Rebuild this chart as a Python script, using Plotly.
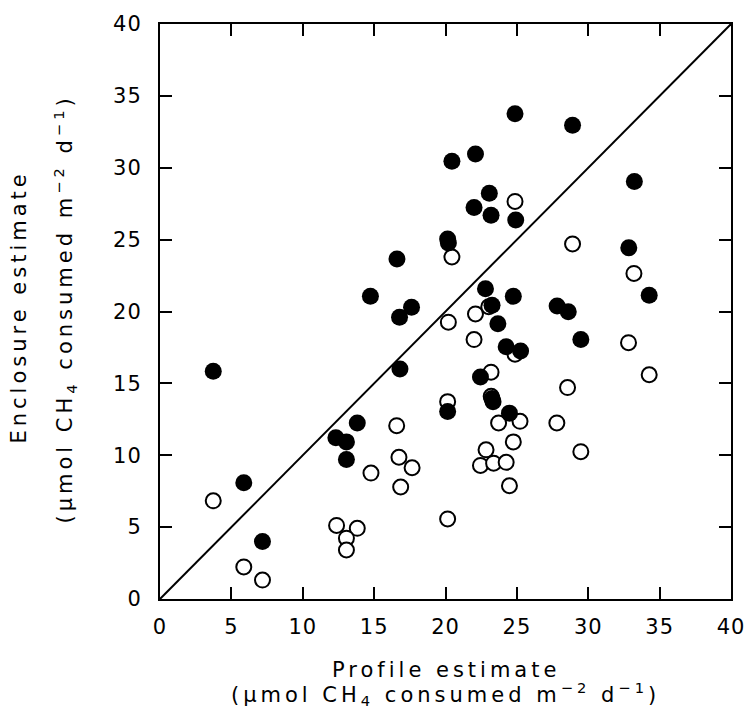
import plotly.graph_objects as go

# Filled circles
filled_x = [3.73, 5.87, 7.18, 12.32, 13.06, 13.06, 13.82, 14.74, 16.6, 16.78, 16.81, 17.62,
            20.15, 20.2, 20.15, 20.45, 22.0, 22.1, 22.45, 22.8, 23.07, 23.19, 23.26, 23.26,
            23.33, 23.67, 24.25, 24.48, 24.75, 24.87, 24.92, 25.26, 27.82, 28.6, 28.9, 29.48,
            32.84, 33.23, 34.27]
filled_y = [15.85, 8.08, 4.0, 11.22, 10.93, 9.7, 12.25, 21.06, 23.65, 19.6, 16.0, 20.29,
            25.04, 24.77, 13.05, 30.46, 27.23, 30.96, 15.44, 21.58, 28.23, 26.7, 20.44, 13.95,
            13.73, 19.15, 17.55, 12.93, 21.06, 33.76, 26.37, 17.25, 20.38, 19.99, 32.96, 18.05,
            24.43, 29.05, 21.13]

# Open circles
open_x = [3.73, 5.87, 7.18, 12.37, 13.82, 13.06, 13.06, 14.78, 16.58, 16.74, 17.66, 16.86,
          20.15, 20.15, 20.2, 20.45, 22.0, 22.1, 23.03, 23.19, 23.2, 23.72, 24.87, 24.87,
          25.22, 24.75, 22.84, 22.45, 23.37, 24.25, 24.48, 27.8, 28.55, 28.9, 29.48, 32.82,
          33.2, 34.27]
open_y = [6.83, 2.23, 1.32, 5.12, 4.92, 4.23, 3.41, 8.76, 12.06, 9.86, 9.13, 7.79,
          13.73, 5.57, 19.26, 23.79, 18.05, 19.83, 20.33, 15.78, 14.1, 12.25, 17.03, 27.66,
          12.36, 10.93, 10.38, 9.29, 9.45, 9.51, 7.88, 12.25, 14.71, 24.7, 10.25, 17.83,
          22.65, 15.6]

line_x = [0, 40]
line_y = [0, 40]
tick_vals = [0, 5, 10, 15, 20, 25, 30, 35, 40]

x_title_1 = "Profile estimate"
y_title_1 = "Enclosure estimate"
unit_title = "(μmol CH<sub>4</sub> consumed m<sup>−2</sup> d<sup>−1</sup>)"

FONT = "DejaVu Sans"

fig = go.Figure()
fig.add_trace(go.Scatter(x=line_x, y=line_y, mode="lines",
                         line=dict(color="black", width=2), showlegend=False))
fig.add_trace(go.Scatter(x=open_x, y=open_y, mode="markers",
                         marker=dict(size=15, color="white",
                                     line=dict(color="black", width=2)),
                         showlegend=False))
fig.add_trace(go.Scatter(x=filled_x, y=filled_y, mode="markers",
                         marker=dict(size=17, color="black",
                                     line=dict(color="black", width=0)),
                         showlegend=False))

axis_common = dict(range=[0, 40], tickvals=tick_vals, ticks="inside", ticklen=12,
                   tickwidth=2, tickcolor="black", showline=True, linecolor="black",
                   linewidth=2, mirror="ticks", showgrid=False, zeroline=False,
                   tickfont=dict(family=FONT, size=21, color="black"))

fig.update_xaxes(**axis_common, ticklabelstandoff=8)
fig.update_yaxes(**axis_common, ticklabelstandoff=12)

tfont = dict(family=FONT, size=21, color="black")
fig.update_layout(
    width=756, height=726,
    margin=dict(l=160, r=17, t=15, b=127),
    plot_bgcolor="white", paper_bgcolor="white",
    font=dict(family=FONT, size=20, color="black"),
    annotations=[
        dict(text=x_title_1, xref="paper", yref="paper", x=0.5, y=0,
             xanchor="center", yanchor="middle", yshift=-71, showarrow=False, font=tfont),
        dict(text=unit_title, xref="paper", yref="paper", x=0.5, y=0,
             xanchor="center", yanchor="middle", yshift=-95, showarrow=False, font=tfont),
        dict(text=y_title_1, xref="paper", yref="paper", x=0, y=0.5,
             xanchor="center", yanchor="middle", xshift=-142, yshift=4,
             textangle=-90, showarrow=False, font=tfont),
        dict(text=unit_title, xref="paper", yref="paper", x=0, y=0.5,
             xanchor="center", yanchor="middle", xshift=-96, yshift=2,
             textangle=-90, showarrow=False, font=tfont),
    ],
)

# Remove the default page margin and widen letter spacing to match the
# extended typeface of the original figure
post_js = """
document.body.style.margin='0';
document.querySelectorAll('.annotation-text').forEach(function(t){t.style.letterSpacing='4px';});
document.querySelectorAll('.xtick text, .ytick text').forEach(function(t){t.style.letterSpacing='1px';});
"""

fig.write_html("out.html", post_script=post_js, config={"displayModeBar": False})
